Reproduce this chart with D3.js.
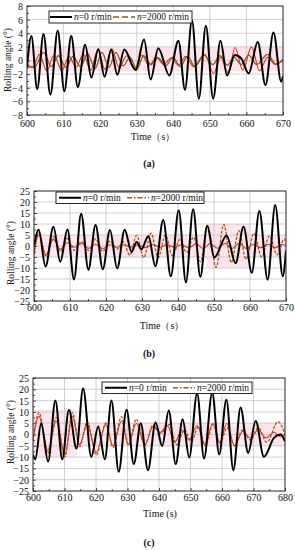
<!DOCTYPE html>
<html><head><meta charset="utf-8">
<script src="https://cdn.jsdelivr.net/npm/d3@7"></script>
<style>body{margin:0;background:#fff}svg{display:block;font-family:"Liberation Serif","Times New Roman",serif}</style>
</head><body><svg id="c" width="295" height="550"></svg>
<script>
// ---------- data ----------
const xTicksAB = [600,610,620,630,640,650,660,670];
const xTicksC = [600,610,620,630,640,650,660,670,680];
const yTicksA = [-8,-6,-4,-2,0,2,4,6,8];
const yTicksBC = [-25,-20,-15,-10,-5,0,5,10,15,20,25];
const legendLabels = ["=0 r/min","=2000 r/min"];
const tags = ["(a)","(b)","(c)"];

// [time s, rolling angle deg] (extrema)
const aN0 = [[600,-1.0],[601.2,3.6],[602.8,-4.2],[604.5,3.9],[606.4,-5.0],[608.4,4.4],[610.2,-4.5],[612.1,3.6],[613.9,-3.9],[615.9,2.3],[617.6,-2.5],[619.5,1.7],[621.2,-2.4],[623.0,1.6],[624.7,-2.1],[626.6,1.6],[629.7,-1.4],[632.0,3.1],[633.8,-2.8],[635.9,1.8],[638.9,-2.2],[641.4,2.9],[643.2,-4.3],[645.1,5.9],[647.0,-5.6],[648.9,5.1],[650.9,-5.6],[652.9,2.9],[654.7,-2.2],[656.8,0.8],[658.6,0.3],[660.6,-1.9],[663.1,2.7],[665.2,-3.6],[667.4,4.1],[669.5,-3.1],[670,-2.3]];
const aN2000 = [[600,-0.9],[602.0,-1.0],[604.6,1.2],[606.6,-0.9],[608.6,0.7],[610.6,-1.0],[612.6,0.6],[614.6,-0.9],[616.6,1.0],[618.6,-1.2],[620.5,1.2],[622.4,-1.0],[624.3,1.2],[626.3,-0.8],[628.2,0.5],[630.0,-1.3],[631.9,0.7],[633.9,-0.6],[635.9,0.4],[637.9,-0.8],[639.9,0.5],[641.9,-0.9],[643.9,0.6],[645.9,-0.9],[648.4,0.8],[650.8,-0.6],[652.8,0.7],[654.8,-0.7],[656.6,0.5],[658.6,-0.6],[660.6,0.8],[662.8,-0.6],[665.8,0.9],[668.0,-0.5],[670,0.0]];
const aRed = [[600,-0.5],[601.5,-1.0],[603.4,0.9],[605.4,-1.5],[607.4,0.8],[609.5,-1.5],[611.5,0.6],[613.4,-1.0],[615.4,0.9],[617.4,-1.4],[619.4,1.6],[621.3,-1.3],[623.2,1.7],[625.2,-1.1],[627.2,0.7],[629.4,-1.2],[631.4,0.8],[633.4,-0.7],[635.4,0.5],[637.4,-0.6],[639.4,0.4],[641.4,-0.7],[643.4,0.6],[645.5,-0.9],[648.6,0.9],[651.0,-1.9],[653.0,0.5],[655.0,-1.8],[656.9,1.9],[659.0,-1.4],[661.4,2.0],[663.6,-1.5],[665.8,0.5],[667.9,-0.6],[670,0.2]];

const bN0 = [[600,0],[601.3,7.4],[603.2,-9.3],[605.4,8.8],[607.3,-7.2],[609.3,7.5],[611.1,-15.2],[613.1,14.7],[615.1,-10.8],[617.1,9.6],[619.1,-10.6],[621.1,7.3],[623.1,-10.2],[625.2,7.4],[627.1,-2.7],[628.5,1.8],[629.8,-1.5],[631.8,4.6],[633.7,-9.2],[635.9,11.8],[638.0,-13.8],[640.2,16.2],[642.2,-16.5],[644.2,16.7],[646.2,-14.0],[648.1,9.2],[650.1,-5.2],[653.5,4.8],[656.0,-7.8],[658.2,8.8],[660.5,-12.2],[662.6,15.9],[664.9,-15.3],[667.0,18.6],[669.1,-13.8],[670,-2]];
const bN2000 = [[600,-4],[601.3,6.0],[603.3,-4.5],[605.4,4.2],[607.3,-2.6],[609.3,3.4],[611.2,-2.0],[613.2,2.0],[615.2,-2.0],[617.1,3.2],[619.1,-2.4],[621.1,2.2],[623.1,-1.5],[624.8,2.0],[626.6,-4.2],[628.5,4.8],[630.5,-5.3],[632.5,5.8],[634.5,-5.3],[636.5,5.0],[638.5,-4.5],[640.5,3.0],[642.4,-3.0],[644.3,4.0],[646.3,-7.2],[648.2,9.2],[650.6,-9.8],[652.7,9.8],[654.8,-7.5],[656.9,7.0],[658.9,-6.0],[661.1,5.8],[663.2,-5.0],[665.4,4.5],[667.5,-4.0],[669.5,3.2],[670,1]];
const bRed = [[600,-3],[601.3,5],[603.3,-4],[605.4,3],[607.3,-1.5],[609.3,1.5],[611.2,-0.6],[613.2,1.2],[615.2,-1.0],[617.1,0.8],[619.1,-1.2],[621.1,0.6],[623.1,-0.6],[625.0,0.6],[627.0,-0.5],[629.0,0.6],[631.0,-0.8],[633.0,0.8],[635.0,-0.6],[637.0,0.5],[639.0,-0.6],[641.0,0.6],[643.0,-0.8],[645.0,1.0],[647.0,-1.2],[649.0,1.2],[651.0,-1.0],[653.0,1.2],[655.0,-1.2],[657.0,1.2],[659.0,-1.2],[661.0,0.8],[663.0,-0.8],[665.0,0.8],[667.0,-0.8],[669.0,0.8],[670,0]];

const cN0 = [[600,-9],[600.7,-11],[602.6,5],[604.8,-12],[607.1,15],[609.3,-11],[611.4,10.9],[613.8,-6.2],[615.9,20.5],[618.5,-9.9],[620.7,3.5],[622.8,-11],[624.9,15],[627.2,-16.5],[629.7,10.9],[632.0,-13.1],[634.2,5],[636.5,-15.8],[638.9,5.3],[641.0,-5.1],[643.1,10.6],[645.3,-13.1],[647.5,6.8],[649.6,-10.2],[652.1,18.3],[654.3,-10.6],[656.9,18.6],[659.1,-8.8],[661.4,15.4],[663.6,-15.8],[665.9,11.9],[668.3,-8.1],[670.7,6],[673.3,-9.9],[676.5,-1.5],[678.6,0],[680,-3]];
const cN2000 = [[600,-3],[601.9,9.7],[604.7,-8.4],[607.4,7.6],[610.1,-9.9],[612.5,9.7],[614.8,-5.4],[617.2,5.7],[620.1,-9.1],[623.1,5],[625.4,-5.7],[628.1,7.9],[630.3,-4.7],[632.8,6.8],[635.5,-4.7],[638.1,4.2],[640.5,0.5],[643.2,4.5],[645.7,-4.5],[648.0,2.0],[650.3,-3.0],[652.5,3.5],[654.8,-5.0],[657.1,4.5],[659.3,-4.0],[661.6,3.0],[664.0,-5.0],[666.5,2.0],[669.0,-2.5],[671.5,3.0],[674.2,-3.5],[677.8,5.7],[680,0]];
const cRed = [[600,-2],[601.9,8],[604.7,-7],[607.4,6],[610.1,-9],[612.5,8],[614.8,-4.5],[617.2,4.5],[620.1,-8],[623.1,4.5],[625.4,-5],[628.1,6],[630.3,-4.5],[632.8,5],[635.5,-4.5],[638.1,3.5],[640.5,1],[642.6,4],[645.0,-3.5],[647.3,2],[649.6,-2.5],[652.1,4],[654.5,-4.5],[657.1,5],[659.3,-3.5],[661.5,5],[664.0,-5],[666.6,1.5],[669.0,-1.5],[671.5,2],[674.0,-1.5],[676.5,1],[678.5,-1],[680,0]];

// highlighted (pink) zones: [t0, t1, v0, v1]
const aPink = [[600.5,616,-1.6,2.0],[616,670,-1.6,2.0]];
const bPink = [[600,648,-5.2,5],[648,660,-10,10],[660,670,-5.2,5]];
const cPink = [[600,614,-10,11],[614,680,-5.1,5]];

// ---------- layout ----------
const panels = [
  {x0:27,x1:283,y0:6,y1:115,xd:[600,670],yd:[-8,8],xt:xTicksAB,yt:yTicksA,yMinor:1,n0:aN0,n2:aN2000,red:aRed,pink:aPink,
   lx:49,ly:11,lw:143,lh:12,l1:50,l2:113,ldash:"6,3",tickY:127,timeY:139.5,timeX:153,time:"Time（s）",tagY:166.5,ytX:8,ytY:60,n2col:"#8a5a1c",dataDash:null},
  {x0:34,x1:286,y0:191,y1:301,xd:[600,670],yd:[-25,25],xt:xTicksAB,yt:yTicksBC,yMinor:2.5,n0:bN0,n2:bN2000,red:bRed,pink:bPink,
   lx:56,ly:192,lw:148,lh:11.5,l1:59,l2:127,ldash:"5,2,1.5,2",tickY:311,timeY:328.5,timeX:162,time:"Time（s）",tagY:356.5,ytX:11,ytY:253,n2col:"#9c5a1a",dataDash:"3,1.5"},
  {x0:33,x1:285,y0:378,y1:491,xd:[600,680],yd:[-25,25],xt:xTicksC,yt:yTicksBC,yMinor:2.5,n0:cN0,n2:cN2000,red:cRed,pink:cPink,
   lx:102,ly:382,lw:150,lh:11.5,l1:105,l2:173,ldash:"5,2,1.5,2",tickY:501,timeY:516.5,timeX:160,time:"Time (s)",tagY:545.5,ytX:11,ytY:432,n2col:"#a5561c",dataDash:"3,1.5"}
];

const svg = d3.select("#c");
panels.forEach((p,i)=>{
  const x = d3.scaleLinear().domain(p.xd).range([p.x0,p.x1]);
  const y = d3.scaleLinear().domain(p.yd).range([p.y1,p.y0]);
  const g = svg.append("g");
  const clipId = "clip"+i;
  g.append("clipPath").attr("id",clipId).append("rect")
    .attr("x",p.x0).attr("y",p.y0).attr("width",p.x1-p.x0).attr("height",p.y1-p.y0);
  // pink zones
  g.selectAll("rect.pink").data(p.pink).join("rect")
    .attr("x",d=>x(d[0])).attr("width",d=>x(d[1])-x(d[0]))
    .attr("y",d=>y(d[3])).attr("height",d=>y(d[2])-y(d[3]))
    .attr("fill","#fde4ec");
  // grid
  g.append("g").selectAll("line").data(p.xt.slice(1,-1)).join("line")
    .attr("x1",d=>x(d)).attr("x2",d=>x(d)).attr("y1",p.y0).attr("y2",p.y1)
    .attr("stroke","#c4c4c4").attr("stroke-width",0.8);
  g.append("g").selectAll("line").data(p.yt.slice(1,-1)).join("line")
    .attr("y1",d=>y(d)).attr("y2",d=>y(d)).attr("x1",p.x0).attr("x2",p.x1)
    .attr("stroke","#c4c4c4").attr("stroke-width",0.8);
  // axes (ticks inward)
  const xa = d3.axisBottom(x).tickValues(p.xt).tickSize(-3).tickPadding(5).tickFormat(d3.format("d"));
  const xm = d3.axisBottom(x).tickValues(d3.range(p.xd[0]+5,p.xd[1],10)).tickSize(-2).tickFormat("");
  const ya = d3.axisLeft(y).tickValues(p.yt).tickSize(-3).tickPadding(4).tickFormat(d3.format("d"));
  const ym = d3.axisLeft(y).tickValues(d3.range(p.yd[0],p.yd[1],p.yMinor).filter(v=>!p.yt.includes(v))).tickSize(-2).tickFormat("");
  const gx = g.append("g").attr("transform",`translate(0,${p.y1})`).call(xa);
  g.append("g").attr("transform",`translate(0,${p.y1})`).call(xm);
  const gy = g.append("g").attr("transform",`translate(${p.x0},0)`).call(ya);
  g.append("g").attr("transform",`translate(${p.x0},0)`).call(ym);
  g.selectAll(".domain").remove();
  g.selectAll("g").attr("font-family",null).attr("font-size",null);
  g.selectAll(".tick line").attr("stroke","#222").attr("stroke-width",0.8);
  gx.selectAll(".tick text").attr("font-size",10).attr("fill","#111").attr("dy",null).attr("y",p.tickY-p.y1);
  gy.selectAll(".tick text").attr("font-size",10).attr("fill","#111").attr("dy","0.34em");
  // lines
  const line = d3.line().x(d=>x(d[0])).y(d=>y(d[1])).curve(d3.curveMonotoneX);
  const lg = g.append("g").attr("clip-path",`url(#${clipId})`);
  lg.append("path").attr("d",line(p.red)).attr("fill","none").attr("stroke","#d8312e").attr("stroke-width",1.1);
  lg.append("path").attr("d",line(p.n2)).attr("fill","none").attr("stroke",p.n2col).attr("stroke-width",1.3)
    .attr("stroke-dasharray",p.dataDash);
  lg.append("path").attr("d",line(p.n0)).attr("fill","none").attr("stroke","#000").attr("stroke-width",2);
  // frame
  g.append("rect").attr("x",p.x0).attr("y",p.y0).attr("width",p.x1-p.x0).attr("height",p.y1-p.y0)
    .attr("fill","none").attr("stroke","#222").attr("stroke-width",1);
  // legend
  const lgd = g.append("g");
  lgd.append("rect").attr("x",p.lx).attr("y",p.ly).attr("width",p.lw).attr("height",p.lh)
    .attr("fill","#fff").attr("stroke","#111").attr("stroke-width",0.9);
  const cy = p.ly+p.lh/2;
  lgd.append("line").attr("x1",p.l1).attr("x2",p.l1+22).attr("y1",cy).attr("y2",cy).attr("stroke","#000").attr("stroke-width",2);
  lgd.append("line").attr("x1",p.l2).attr("x2",p.l2+22).attr("y1",cy).attr("y2",cy).attr("stroke",p.n2col).attr("stroke-width",1.6).attr("stroke-dasharray",p.ldash);
  [p.l1+24,p.l2+24].forEach((lx,k)=>{
    const t = lgd.append("text").attr("x",lx).attr("y",cy+3.4).attr("font-size",9.5).attr("fill","#111");
    t.append("tspan").attr("font-style","italic").text("n");
    t.append("tspan").text(legendLabels[k]);
  });
  // titles
  g.append("text").attr("x",p.timeX).attr("y",p.timeY).attr("text-anchor","middle").attr("font-size",10).attr("fill","#111").text(p.time);
  g.append("text").attr("transform",`translate(${p.ytX},${p.ytY}) rotate(-90)`).attr("text-anchor","middle")
    .attr("dy","0.35em").attr("font-size",9.5).attr("fill","#111").text("Rolling angle (°)");
  g.append("text").attr("x",149).attr("y",p.tagY).attr("text-anchor","middle").attr("font-size",10).attr("font-weight","bold").attr("fill","#111").text(tags[i]);
});
</script></body></html>
